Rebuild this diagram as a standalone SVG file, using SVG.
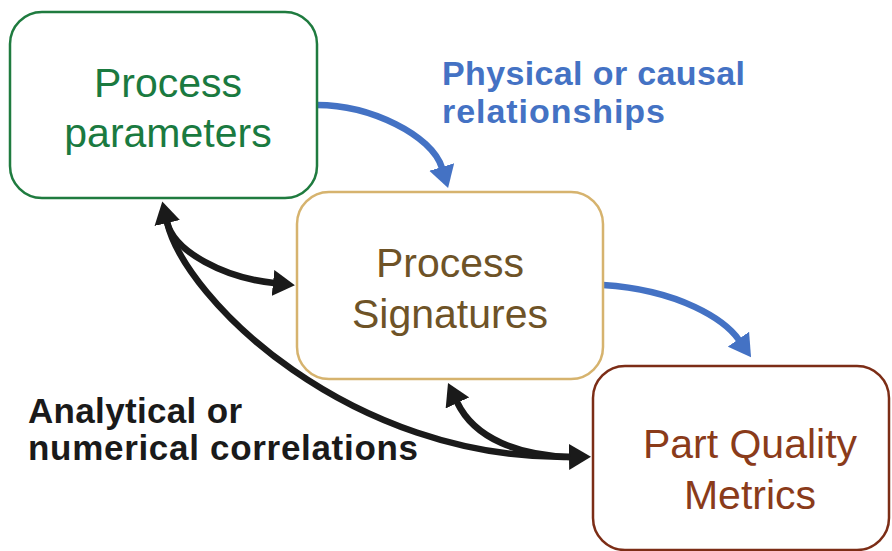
<svg xmlns="http://www.w3.org/2000/svg" width="892" height="551" viewBox="0 0 892 551">
<style>
.box{fill:#fff;stroke-width:2.5}
.nt{font-family:"Liberation Sans",Arial,sans-serif;font-size:41px;text-anchor:middle}
.lbl{font-family:"Liberation Sans",Arial,sans-serif;font-weight:bold}
.blue{fill:none;stroke:#4472c4;stroke-width:6.5}
.black{fill:none;stroke:#1a1a1a;stroke-width:6.5}
</style>
<defs>
<marker id="ab" markerUnits="userSpaceOnUse" viewBox="0 0 22 26" markerWidth="22" markerHeight="26" refX="1" refY="13" orient="auto-start-reverse">
<path d="M0,0 L22,13 L0,26 z" fill="#4472c4"/>
</marker>
<marker id="ak" markerUnits="userSpaceOnUse" viewBox="0 0 22 26" markerWidth="22" markerHeight="26" refX="1" refY="13" orient="auto-start-reverse">
<path d="M0,0 L22,13 L0,26 z" fill="#1a1a1a"/>
</marker>
</defs>
<g id="connectors">
<path class="blue" d="M317,105 C370,105 432,135 442,168" marker-end="url(#ab)"/>
<path class="blue" d="M603,285 C680,290 725,320 739,340" marker-end="url(#ab)"/>
<path class="black" d="M167,222 C174,252 225,278 274,283" marker-end="url(#ak)"/>
<path class="black" d="M167,222 C185,300 350,460 570,457" marker-start="url(#ak)" marker-end="url(#ak)"/>
<path class="black" d="M457,402 C475,440 520,455 570,457" marker-start="url(#ak)"/>
</g>
<g id="process-parameters">
<rect class="box" x="10" y="12" width="307" height="186" rx="32" stroke="#1f7b3f"/>
<text class="nt" x="168" y="97" fill="#1a7a40">Process</text>
<text class="nt" x="168" y="147" fill="#1a7a40">parameters</text>
</g>
<g id="process-signatures">
<rect class="box" x="297" y="192" width="306" height="187" rx="32" stroke="#d6b36e"/>
<text class="nt" x="450" y="277" fill="#6e5327">Process</text>
<text class="nt" x="450" y="328" fill="#6e5327">Signatures</text>
</g>
<g id="part-quality-metrics">
<rect class="box" x="593" y="366" width="296" height="184" rx="32" stroke="#7c2d16"/>
<text class="nt" x="750" y="458" fill="#8a3b1a">Part Quality</text>
<text class="nt" x="750" y="509" fill="#8a3b1a">Metrics</text>
</g>
<g id="labels">
<text class="lbl" x="442" y="85" font-size="34" fill="#4472c4" textLength="303" lengthAdjust="spacing">Physical or causal</text>
<text class="lbl" x="442" y="123" font-size="34" fill="#4472c4" textLength="223" lengthAdjust="spacing">relationships</text>
<text class="lbl" x="28" y="423" font-size="35" fill="#1a1a1a" textLength="214" lengthAdjust="spacing">Analytical or</text>
<text class="lbl" x="28" y="460" font-size="35" fill="#1a1a1a" textLength="390" lengthAdjust="spacing">numerical correlations</text>
</g>
</svg>
